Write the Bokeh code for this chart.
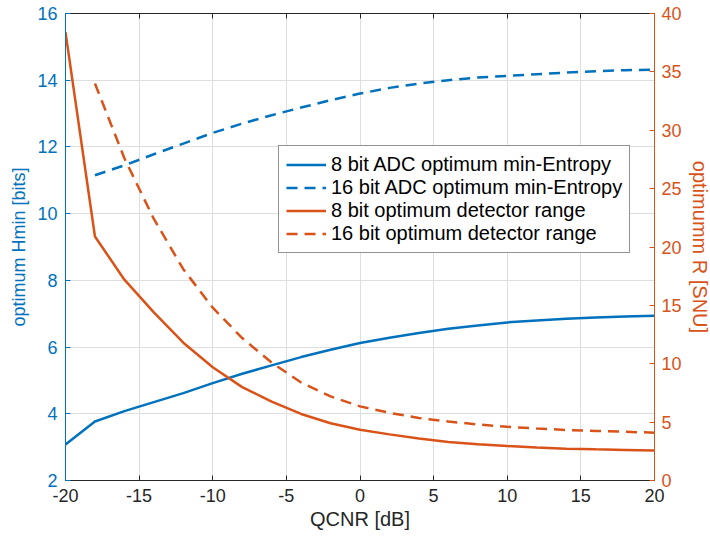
from bokeh.plotting import figure
from bokeh.models import Range1d, LinearAxis, Legend, LegendItem, FixedTicker, CustomJSTickFormatter
from bokeh.embed import file_html
from bokeh.resources import INLINE

qcnr = [-20, -18, -16, -14, -12, -10, -8, -6, -4, -2, 0, 2, 4, 6, 8, 10, 12, 14, 16, 18, 20]
qcnr16 = qcnr[1:]

hmin_8 = [3.08, 3.77, 4.08, 4.35, 4.62, 4.92, 5.2, 5.45, 5.7, 5.92, 6.12, 6.28, 6.42, 6.55, 6.65, 6.74, 6.8, 6.85, 6.89, 6.92, 6.94]
hmin_16 = [11.15, 11.45, 11.78, 12.1, 12.42, 12.7, 12.95, 13.18, 13.4, 13.6, 13.77, 13.9, 14.0, 14.08, 14.13, 14.18, 14.23, 14.27, 14.3, 14.32]
r_8 = [38.4, 20.9, 17.2, 14.4, 11.8, 9.7, 8.0, 6.75, 5.7, 4.9, 4.35, 3.95, 3.6, 3.3, 3.1, 2.95, 2.82, 2.73, 2.67, 2.62, 2.57]
r_16 = [34.0, 27.6, 22.4, 18.1, 14.8, 12.2, 10.1, 8.4, 7.2, 6.35, 5.8, 5.35, 5.05, 4.8, 4.6, 4.45, 4.33, 4.25, 4.17, 4.1]

x_ticks = [-20, -15, -10, -5, 0, 5, 10, 15, 20]
left_ticks = [2, 4, 6, 8, 10, 12, 14, 16]
right_ticks = [0, 5, 10, 15, 20, 25, 30, 35, 40]

BLUE = "#0072BD"
ORANGE = "#D95319"
DARK = "#262626"
FONT = "Liberation Sans"

p = figure(frame_width=589, frame_height=467, x_range=Range1d(-20, 20), y_range=Range1d(2, 16),
           output_backend="svg", toolbar_location=None,
           min_border_left=65, min_border_top=13, min_border_right=56, min_border_bottom=57)
p.extra_y_ranges = {"r": Range1d(0, 40)}
p.outline_line_color = DARK
p.background_fill_color = "white"

# grid
p.xgrid.ticker = FixedTicker(ticks=x_ticks)
p.ygrid.ticker = FixedTicker(ticks=left_ticks)
for g in (p.xgrid, p.ygrid):
    g.grid_line_color = "#dedede"
    g.grid_line_width = 1

fmt = "return tick.toString();"

xa = p.xaxis[0]
xa.ticker = FixedTicker(ticks=x_ticks)
xa.formatter = CustomJSTickFormatter(code=fmt)
xa.axis_label = "QCNR [dB]"
ya = p.yaxis[0]
ya.ticker = FixedTicker(ticks=left_ticks)
ya.formatter = CustomJSTickFormatter(code=fmt)
ya.axis_label = "optimum Hmin [bits]"

ra = LinearAxis(y_range_name="r", ticker=FixedTicker(ticks=right_ticks),
                formatter=CustomJSTickFormatter(code=fmt), axis_label="optimumm R [SNU]")
p.add_layout(ra, "right")

# top box edge with inward ticks (no labels)
ta = LinearAxis(ticker=FixedTicker(ticks=x_ticks), major_label_text_font_size="0px",
                major_label_text_alpha=0, formatter=CustomJSTickFormatter(code="return '';"),
                major_label_standoff=0, axis_line_color=DARK, major_tick_line_color=DARK,
                major_tick_in=5, major_tick_out=0, minor_tick_line_color=None)
p.add_layout(ta, "above")

for ax, col, lab_size in ((xa, DARK, "20px"), (ya, BLUE, "18px"), (ra, ORANGE, "20px")):
    ax.axis_line_color = col
    ax.major_tick_line_color = col
    ax.major_label_text_color = col
    ax.axis_label_text_color = col
    ax.major_tick_in = 5
    ax.major_tick_out = 0
    ax.minor_tick_line_color = None
    ax.major_label_text_font = FONT
    ax.major_label_text_font_size = "18px"
    ax.axis_label_text_font = FONT
    ax.axis_label_text_font_size = lab_size
    ax.axis_label_text_font_style = "normal"

xa.major_label_standoff = 8
xa.axis_label_standoff = 3
ya.major_label_standoff = 8
ya.axis_label_standoff = 5
ra.major_label_standoff = 7
ra.axis_label_standoff = 4

r1 = p.line(qcnr, hmin_8, line_color=BLUE, line_width=2.5)
r2 = p.line(qcnr16, hmin_16, line_color=BLUE, line_width=2.5, line_dash="11 7")
r3 = p.line(qcnr, r_8, line_color=ORANGE, line_width=2.5, y_range_name="r")
r4 = p.line(qcnr16, r_16, line_color=ORANGE, line_width=2.5, line_dash="11 7", y_range_name="r")

legend = Legend(items=[
    LegendItem(label="8 bit ADC optimum min-Entropy", renderers=[r1]),
    LegendItem(label="16 bit ADC optimum min-Entropy", renderers=[r2]),
    LegendItem(label="8 bit optimum detector range", renderers=[r3]),
    LegendItem(label="16 bit optimum detector range", renderers=[r4]),
], location=(213, 227))
legend.label_text_font = FONT
legend.label_text_font_size = "20px"
legend.label_text_color = "black"
legend.glyph_width = 40
legend.glyph_height = 23
legend.label_height = 23
legend.spacing = 0
legend.padding = 7
legend.margin = 0
legend.label_standoff = 5
legend.border_line_color = DARK
legend.border_line_width = 1
legend.background_fill_alpha = 1
p.add_layout(legend)

open("out.html", "w").write(file_html(p, INLINE))
